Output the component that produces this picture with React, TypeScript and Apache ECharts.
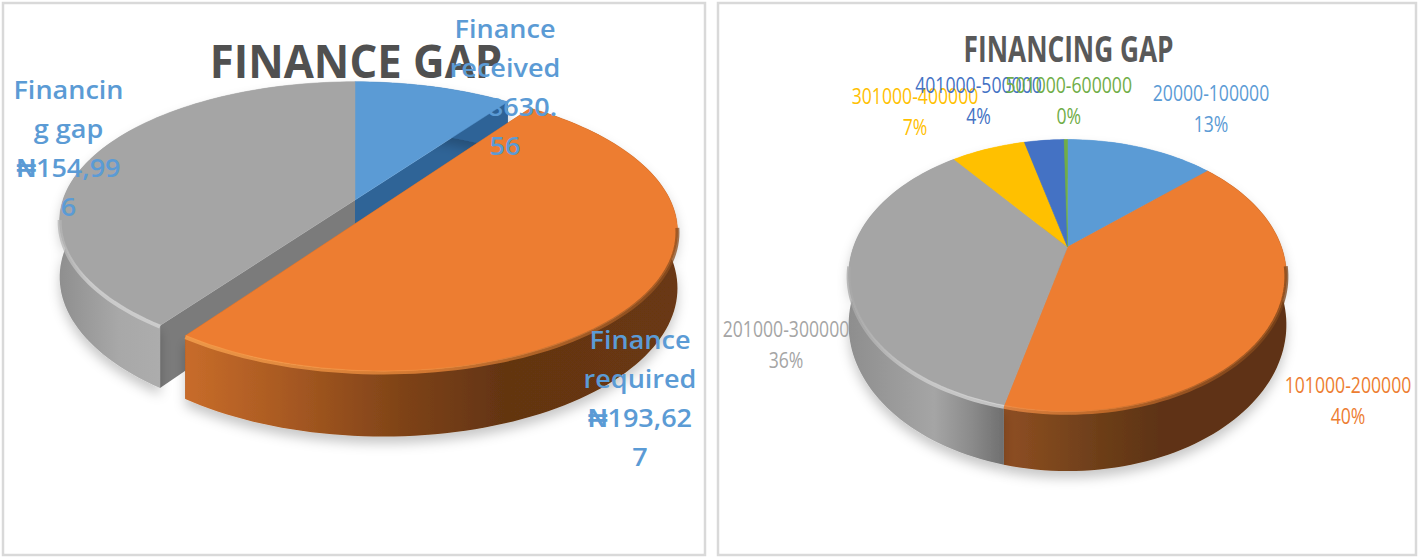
import React, { useEffect, useRef } from "react";
import * as echarts from "echarts";

// ---- data ----
const gapCategories = ["Finance received", "Finance required", "Financing gap"];
const gapValues = [38630.56, 193627, 154996];
const gapLabels = ["Finance\nreceived\n₦38630.\n56", "Finance\nrequired\n₦193,62\n7", "Financin\ng gap\n₦154,99\n6"];

const bandCategories = ["20000-100000", "101000-200000", "201000-300000", "301000-400000", "401000-500000", "501000-600000"];
const bandValues = [13.4, 40.4, 35.6, 6.7, 3.6, 0.3];
const bandPercents = ["13%", "40%", "36%", "7%", "4%", "0%"];

const titleLeft = "FINANCE GAP";
const titleRight = "FINANCING GAP";

// ---- styling ----
const BLUE = "#5b9bd5", ORANGE = "#ed7d31", GRAY = "#a5a5a5", YELLOW = "#ffc000", DBLUE = "#4472c4", GREEN = "#70ad47";
const FONT = '"Open Sans", sans-serif';

type Stops = [number, string][];
interface SliceStyle { fill: string; chord: string; wall: Stops; rim: Stops | null; explode: number; }
interface PieView { cx: number; cy: number; rx: number; ry: number; h: number; p: number; rot: number; }

const leftView: PieView = { cx: 355, cy: 200, rx: 292, ry: 136, h: 55, p: 0.15, rot: 0 };
const rightView: PieView = { cx: 1067.5, cy: 247, rx: 214, ry: 130, h: 47, p: 0.21, rot: 0 };

const plain = (c: string): Stops => [[0, c], [1, c]];

const leftStyles: SliceStyle[] = [
  { fill: BLUE, chord: "#2f6497", wall: plain("#2f6497"), rim: null, explode: 0 },
  { fill: ORANGE, chord: "#a8561f", explode: 0.1,
    wall: [[0, "#c86c2a"], [0.2, "#a95a22"], [0.45, "#7d4217"], [0.65, "#633411"], [1, "#6a3812"]],
    rim: [[0, "#f9a653"], [0.5, "#ef8a3a"], [0.8, "#b8682b"], [1, "#8a4c1d"]] },
  { fill: GRAY, chord: "#7b7b7b", explode: 0,
    wall: [[0, "#8f8f8f"], [0.2, "#a8a8a8"], [0.45, "#b0b0b0"], [1, "#b0b0b0"]],
    rim: [[0, "#b4b4b4"], [0.3, "#d6d6d6"], [1, "#d6d6d6"]] },
];
const rightStyles: SliceStyle[] = [
  { fill: BLUE, chord: BLUE, wall: plain(BLUE), rim: null, explode: 0 },
  { fill: ORANGE, chord: ORANGE, explode: 0,
    wall: [[0, "#8f4f22"], [0.3, "#70401a"], [0.55, "#5e3312"], [1, "#5e3312"]],
    rim: [[0, "#f2914a"], [0.35, "#d9772f"], [0.7, "#a05822"], [1, "#7a4318"]] },
  { fill: GRAY, chord: GRAY, explode: 0,
    wall: [[0, "#8e8e8e"], [0.55, "#a5a5a5"], [0.8, "#8a8a8a"], [1, "#6f6f6f"]],
    rim: [[0, "#a8a8a8"], [0.4, "#cfcfcf"], [1, "#dcdcdc"]] },
  { fill: YELLOW, chord: YELLOW, wall: plain(YELLOW), rim: null, explode: 0 },
  { fill: DBLUE, chord: DBLUE, wall: plain(DBLUE), rim: null, explode: 0 },
  { fill: GREEN, chord: GREEN, wall: plain(GREEN), rim: null, explode: 0 },
];

const grad = (s: Stops) =>
  new echarts.graphic.LinearGradient(0, 0, 1, 0, s.map(([offset, color]) => ({ offset, color })));

function pieSeries(values: number[], view: PieView, styles: SliceStyle[]) {
  const total = values.reduce((a, b) => a + b, 0);
  const starts: number[] = [];
  values.reduce((acc, v, i) => ((starts[i] = acc), acc + v), 0);
  return {
    type: "custom",
    coordinateSystem: "none",
    silent: true,
    data: values.map((v) => [v]),
    renderItem: (params: any, api: any) => {
      const i = params.dataIndex;
      const v = api.value(0);
      const st = styles[i];
      const a0 = (starts[i] / total) * 2 * Math.PI + view.rot;
      const a1 = ((starts[i] + v) / total) * 2 * Math.PI + view.rot;
      const mid = (a0 + a1) / 2;
      const ex = st.explode * Math.sin(mid);
      const ey = -st.explode * Math.cos(mid);
      const proj = (X: number, Y: number, d: number) => {
        const s = 1 / (1 - view.p * Y);
        return [view.cx + view.rx * X * s, view.cy + view.ry * Y * s + view.h * s * d];
      };
      const rim = (t: number, d: number) => proj(Math.sin(t) + ex, -Math.cos(t) + ey, d);
      const apex = (d: number) => proj(ex, ey, d);
      const n = Math.max(2, Math.ceil((a1 - a0) / 0.03));
      const angles = Array.from({ length: n + 1 }, (_, k) => a0 + ((a1 - a0) * k) / n);
      const arc = (d: number) => angles.map((t) => rim(t, d));
      const toD = (pts: number[][], close = true) =>
        pts.map((p, k) => `${k ? "L" : "M"}${p[0].toFixed(2)} ${p[1].toFixed(2)}`).join("") + (close ? "Z" : "");
      const base = st.explode ? 10 : 0;
      const path = (d: string, style: any, z2: number) => ({ type: "path", shape: { pathData: d }, style, z2 });
      const top = arc(0), bottom = arc(1);
      const front = angles.filter((t) => -Math.cos(t) > 0.12).map((t) => rim(t, 0.02));
      const children: any[] = [
        path(toD([apex(0), rim(a1, 0), rim(a1, 1), apex(1)]), { fill: st.chord }, base),
        path(toD([apex(0), rim(a0, 0), rim(a0, 1), apex(1)]), { fill: st.chord }, base),
        path(toD([...top, ...bottom.slice().reverse()]), {
          fill: grad(st.wall),
          shadowBlur: 12, shadowColor: "rgba(0,0,0,0.22)", shadowOffsetY: 7,
        }, base + 1),
        path(toD([apex(0), ...top]), { fill: st.fill, stroke: st.fill, lineWidth: 0.5 }, base + 3),
      ];
      if (st.rim && front.length > 1) {
        children.push(path(toD(front, false), { fill: null, stroke: grad(st.rim), lineWidth: 4, opacity: 0.75 }, base + 4));
      }
      return { type: "group", children };
    },
  };
}

const txt = (text: string, x: number, y: number, font: string, fill: string, lineHeight: number, scaleX = 1, z = 50) => ({
  type: "text", x, y, scaleX, z,
  style: { text, font, fill, align: "center", verticalAlign: "middle", lineHeight },
});

const LABEL_FONT = `600 26px ${FONT}`;
const BAND_FONT = `500 21px ${FONT}`;
const bandPos = [[1211, 108], [1348, 400], [786, 344], [915, 111], [978.5, 100], [1068.7, 100]];
const bandCol = [BLUE, ORANGE, GRAY, YELLOW, DBLUE, GREEN];
const gapPos = [[505, 87], [640, 398], [68.5, 148]];

export default function App() {
  const ref = useRef<HTMLDivElement>(null);
  useEffect(() => {
    const chart = echarts.init(ref.current!, null, { renderer: "svg" });
    chart.setOption({
      animation: false,
      backgroundColor: "#fff",
      series: [pieSeries(gapValues, leftView, leftStyles), pieSeries(bandValues, rightView, rightStyles)],
      graphic: [
        { type: "rect", z: 0, shape: { x: 3, y: 3, width: 702, height: 552 }, style: { fill: "none", stroke: "#d9d9d9", lineWidth: 2.5 } },
        { type: "rect", z: 0, shape: { x: 718, y: 3, width: 698, height: 552 }, style: { fill: "none", stroke: "#d9d9d9", lineWidth: 2.5 } },
        txt(titleLeft, 356, 60, `700 46px ${FONT}`, "#505050", 50, 0.95),
        txt(titleRight, 1068.6, 48, `700 35px ${FONT}`, "#595959", 40, 0.75),
        ...gapLabels.map((t, i) => txt(t, gapPos[i][0], gapPos[i][1], LABEL_FONT, BLUE, 39, 1.04)),
        ...bandCategories.map((c, i) =>
          txt(`${c}\n${bandPercents[i]}`, bandPos[i][0], bandPos[i][1], BAND_FONT, bandCol[i], 31, 0.84)
        ),
      ],
    });
    return () => chart.dispose();
  }, []);
  return <div ref={ref} style={{ position: "fixed", left: 0, top: 0, width: 1418, height: 558 }} />;
}
